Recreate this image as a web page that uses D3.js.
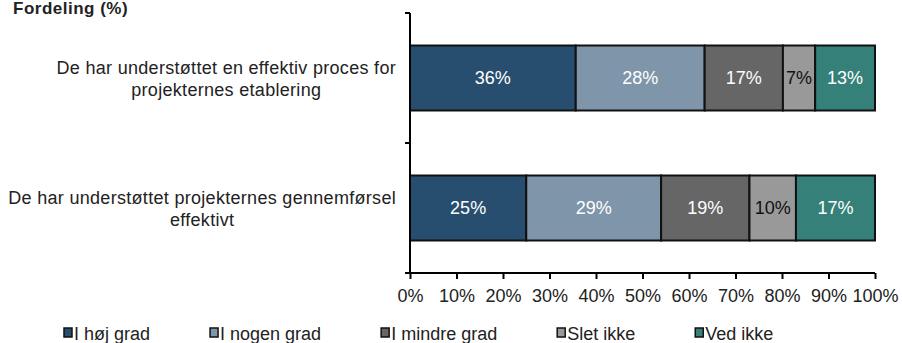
<!DOCTYPE html>
<html>
<head>
<meta charset="utf-8">
<script src="https://cdn.jsdelivr.net/npm/d3@7"></script>
<style>
  body { margin: 0; background: #fff; }
  text { font-family: "Liberation Sans", Arial, sans-serif; fill: #222; }
</style>
</head>
<body>
<div id="chart"></div>
<script>
var categories = [
  "De har understøttet en effektiv proces for\nprojekternes etablering",
  "De har understøttet projekternes gennemførsel\neffektivt"
];
var series = ["I høj grad", "I nogen grad", "I mindre grad", "Slet ikke", "Ved ikke"];
var hoejGrad   = [36, 25];
var nogenGrad  = [28, 29];
var mindreGrad = [17, 19];
var sletIkke   = [7, 10];
var vedIkke    = [13, 17];
var xTicks = [0, 0.1, 0.2, 0.3, 0.4, 0.5, 0.6, 0.7, 0.8, 0.9, 1];

var colors = ["#274e6e", "#7f95a9", "#666666", "#999999", "#35817a"];
var labelColors = ["#fff", "#fff", "#fff", "#111", "#fff"];

var width = 902, height = 343;
var x0 = 410, x1 = 875, yTop = 13, yBottom = 273;

var rows = categories.map(function(c, i) {
  return {
    cat: c,
    "I høj grad": hoejGrad[i],
    "I nogen grad": nogenGrad[i],
    "I mindre grad": mindreGrad[i],
    "Slet ikke": sletIkke[i],
    "Ved ikke": vedIkke[i]
  };
});

// 100% stacked
var stacked = d3.stack().keys(series).offset(d3.stackOffsetExpand)(rows);

var svg = d3.select("#chart").append("svg")
    .attr("width", width)
    .attr("height", height);

var x = d3.scaleLinear().domain([0, 1]).range([x0, x1]);
var y = d3.scaleBand().domain(categories).range([yTop, yBottom]).paddingInner(0.5).paddingOuter(0.25);

// title
svg.append("text")
    .attr("x", 13)
    .attr("y", 14)
    .style("font-size", "17px")
    .style("font-weight", "bold")
    .style("letter-spacing", "0.5px")
    .text("Fordeling (%)");

// bars
var layer = svg.append("g").selectAll("g")
    .data(stacked)
    .enter().append("g")
    .attr("fill", function(d, i) { return colors[i]; });

layer.selectAll("rect")
    .data(function(d) { return d; })
    .enter().append("rect")
    .attr("x", function(d) { return x(d[0]); })
    .attr("y", function(d) { return y(d.data.cat); })
    .attr("width", function(d) { return x(d[1]) - x(d[0]); })
    .attr("height", y.bandwidth())
    .attr("stroke", "#111")
    .attr("stroke-width", 2);

layer.each(function(s, si) {
  d3.select(this).selectAll("text.val")
      .data(s)
      .enter().append("text")
      .attr("class", "val")
      .attr("x", function(d) { return (x(d[0]) + x(d[1])) / 2; })
      .attr("y", function(d) { return y(d.data.cat) + y.bandwidth() / 2 + 6; })
      .attr("text-anchor", "middle")
      .style("font-size", "18px")
      .style("fill", labelColors[si])
      .text(function(d) { return d.data[s.key] + "%"; });
});

// y axis
svg.append("line")
    .attr("x1", x0).attr("x2", x0)
    .attr("y1", yTop).attr("y2", yBottom)
    .attr("stroke", "#000").attr("stroke-width", 2);

var yTickPos = [yTop, (yTop + yBottom) / 2, yBottom];
svg.selectAll("line.ytick")
    .data(yTickPos)
    .enter().append("line")
    .attr("class", "ytick")
    .attr("x1", x0 - 5).attr("x2", x0)
    .attr("y1", function(d) { return d; })
    .attr("y2", function(d) { return d; })
    .attr("stroke", "#000").attr("stroke-width", 2);

// category labels: lines centred, block right-aligned
categories.forEach(function(c) {
  var lines = c.split("\n");
  var cy = y(c) + y.bandwidth() / 2;
  var texts = svg.append("g").selectAll("text")
      .data(lines)
      .enter().append("text")
      .attr("text-anchor", "middle")
      .attr("y", function(d, i) { return cy + (i - (lines.length - 1) / 2) * 22 + 7; })
      .style("font-size", "18px")
      .style("letter-spacing", "0.3px")
      .text(function(d) { return d; });
  var maxW = 0;
  texts.each(function() { maxW = Math.max(maxW, this.getComputedTextLength()); });
  texts.attr("x", 396 - maxW / 2);
});

// x axis
var xAxis = d3.axisBottom(x)
    .tickValues(xTicks)
    .tickSize(6)
    .tickFormat(d3.format(".0%"));

var xg = svg.append("g")
    .attr("transform", "translate(0," + yBottom + ")")
    .call(xAxis);

xg.select(".domain").attr("stroke", "#000").attr("stroke-width", 2)
    .attr("d", "M" + (x0 - 5) + ",0H" + x1);
xg.selectAll(".tick line").attr("stroke", "#000").attr("stroke-width", 2);
xg.selectAll(".tick text")
    .attr("y", 16)
    .style("font-size", "18px")
    .style("font-family", "'Liberation Sans', Arial, sans-serif")
    .style("fill", "#222");

// legend
var lx = 64;
var legend = svg.append("g");
series.forEach(function(s, i) {
  legend.append("rect")
      .attr("x", lx)
      .attr("y", 328)
      .attr("width", 8)
      .attr("height", 9)
      .attr("fill", colors[i])
      .attr("stroke", "#111")
      .attr("stroke-width", 1.5);
  var t = legend.append("text")
      .attr("x", lx + 10)
      .attr("y", 340)
      .style("font-size", "18px")
      .text(s);
  lx = lx + 10 + t.node().getComputedTextLength() + 60;
});
</script>
</body>
</html>
